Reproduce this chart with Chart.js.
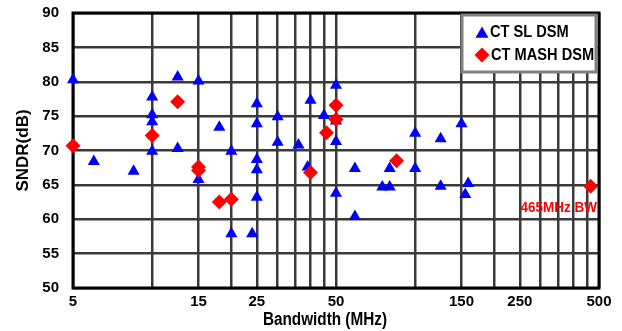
<!DOCTYPE html>
<html>
<head>
<meta charset="utf-8">
<script src="https://cdn.jsdelivr.net/npm/chart.js@4.4.0/dist/chart.umd.min.js"></script>
<style>
  html, body { margin: 0; padding: 0; background: #fff; }
  #wrap { width: 622px; height: 331px; }
</style>
</head>
<body>
<div id="wrap"><canvas id="myChart" width="622" height="331"></canvas></div>
<script>
// CT SL DSM (blue triangles)
const slBandwidth = [5, 12.5, 15, 10, 10, 10, 10, 12.5, 18, 20, 6, 8.5, 15, 20, 24, 25, 25, 25, 25, 25,
  30, 30, 36, 40, 45, 50, 50, 50, 39, 50, 59, 59, 75, 80, 80, 100, 100, 125, 125, 150, 155, 159];
const slSndr = [80.3, 80.7, 80.1, 77.8, 75.2, 74.2, 69.9, 70.3, 73.4, 69.9, 68.4, 67.0, 65.8, 57.9, 57.9, 63.2, 76.8, 73.9, 68.7, 67.2,
  74.9, 71.2, 70.8, 77.3, 75.1, 79.5, 74.3, 71.3, 67.6, 63.8, 67.4, 60.4, 64.7, 64.7, 67.4, 67.4, 72.5, 71.7, 64.8, 73.9, 63.6, 65.2];

// CT MASH DSM (red diamonds)
const mashBandwidth = [5, 12.5, 10, 15, 15, 18, 20, 50, 50, 46, 40, 85, 465];
const mashSndr = [70.7, 77.1, 72.2, 67.6, 67.1, 62.5, 62.9, 76.6, 74.5, 72.6, 66.8, 68.5, 64.8];

const xGridValues = [5, 10, 15, 20, 25, 30, 35, 40, 45, 50, 100, 150, 200, 250, 300, 350, 400, 450, 500];
const xTickLabels = [5, 15, 25, 50, 150, 250, 500];
const seriesLabels = ["CT SL DSM", "CT MASH DSM"];
const xTitle = "Bandwidth (MHz)";
const noteText = "465MHz BW";

const FONT = "'Liberation Sans', Arial, sans-serif";
Chart.defaults.font.family = FONT;
Chart.defaults.font.weight = "bold";
Chart.defaults.color = "#000";

function toPoints(xs, ys) {
  return xs.map((x, i) => ({ x: x, y: ys[i] }));
}

function triangle(ctx, x, y, r) {
  ctx.beginPath();
  ctx.moveTo(x, y - r);
  ctx.lineTo(x + r * Math.sin(Math.PI / 3), y + r / 2);
  ctx.lineTo(x - r * Math.sin(Math.PI / 3), y + r / 2);
  ctx.closePath();
  ctx.fill();
}

function diamond(ctx, x, y, r) {
  ctx.beginPath();
  ctx.moveTo(x, y - r);
  ctx.lineTo(x + r, y);
  ctx.lineTo(x, y + r);
  ctx.lineTo(x - r, y);
  ctx.closePath();
  ctx.fill();
}

// narrow bold text, like the original figure
function narrowText(ctx, text, x, y, size, sx) {
  ctx.save();
  ctx.translate(x, y);
  ctx.scale(sx, 1);
  ctx.font = "bold " + size + "px " + FONT;
  ctx.fillText(text, 0, 0);
  ctx.restore();
}

const framePlugin = {
  id: "frame",
  beforeDatasetsDraw(chart) {
    const { ctx, chartArea: a } = chart;
    ctx.save();
    ctx.strokeStyle = "#000";
    ctx.lineWidth = 3;
    ctx.strokeRect(a.left, a.top, a.right - a.left, a.bottom - a.top);
    ctx.restore();
  },
  afterDatasetsDraw(chart) {
    const { ctx, chartArea: a, scales } = chart;
    ctx.save();
    // legend box
    const bx = a.right - 137, by = a.top + 2, bw = 134, bh = 57;
    ctx.fillStyle = "#fff";
    ctx.fillRect(bx, by, bw, bh);
    ctx.strokeStyle = "#808080";
    ctx.lineWidth = 3;
    ctx.strokeRect(bx, by, bw, bh);
    ctx.textBaseline = "middle";
    ctx.textAlign = "left";
    ctx.fillStyle = "#0000ff";
    triangle(ctx, bx + 20, by + 19, 7.5);
    ctx.fillStyle = "#000";
    narrowText(ctx, seriesLabels[0], bx + 28, by + 17, 17, 0.86);
    ctx.fillStyle = "#ff0000";
    diamond(ctx, bx + 20, by + 40, 7.5);
    ctx.fillStyle = "#000";
    narrowText(ctx, seriesLabels[1], bx + 29, by + 40, 17, 0.86);
    // note
    ctx.fillStyle = "#ff0000";
    ctx.textAlign = "right";
    narrowText(ctx, noteText, a.right - 2, scales.y.getPixelForValue(61.6), 15, 0.9);
    // x axis title
    ctx.fillStyle = "#000";
    ctx.textAlign = "center";
    narrowText(ctx, xTitle, a.left + (a.right - a.left) * 0.479, a.bottom + 32, 18, 0.85);
    ctx.restore();
  }
};

new Chart(document.getElementById("myChart"), {
  type: "scatter",
  data: {
    datasets: [
      {
        label: seriesLabels[0],
        data: toPoints(slBandwidth, slSndr),
        pointStyle: "triangle",
        pointRadius: 7,
        pointBorderWidth: 0,
        backgroundColor: "#0000ff",
        borderColor: "#0000ff",
        order: 2,
        clip: false
      },
      {
        label: seriesLabels[1],
        data: toPoints(mashBandwidth, mashSndr),
        pointStyle: "rectRot",
        pointRadius: 7.5,
        pointBorderWidth: 0,
        backgroundColor: "#ff0000",
        borderColor: "#ff0000",
        order: 1,
        clip: false
      }
    ]
  },
  options: {
    responsive: false,
    animation: false,
    events: [],
    layout: { padding: { left: 0, right: 23, top: 13, bottom: 0 } },
    plugins: {
      legend: { display: false },
      tooltip: { enabled: false }
    },
    scales: {
      x: {
        type: "logarithmic",
        min: 5,
        max: 500,
        afterBuildTicks: (s) => { s.ticks = xGridValues.map(v => ({ value: v })); },
        afterFit: (s) => { s.height = 43; s.paddingLeft = 0; s.paddingRight = 0; },
        ticks: {
          autoSkip: false,
          maxRotation: 0,
          padding: 5,
          font: { size: 15, weight: "bold" },
          callback: (v) => xTickLabels.includes(v) ? String(v) : ""
        },
        grid: { color: "#3a3a3a", lineWidth: 2.5, drawTicks: false },
        border: { display: false },
        title: { display: false }
      },
      y: {
        min: 50,
        max: 90,
        afterFit: (s) => { s.width = 73; s.paddingTop = 0; s.paddingBottom = 0; },
        ticks: {
          stepSize: 5,
          padding: 14,
          font: { size: 15, weight: "bold" }
        },
        grid: { color: "#3a3a3a", lineWidth: 2.5, drawTicks: false },
        border: { display: false },
        title: {
          display: true,
          text: "SNDR(dB)",
          font: { size: 17, weight: "bold" },
          padding: { top: 13, bottom: 0 }
        }
      }
    }
  },
  plugins: [framePlugin]
});
</script>
</body>
</html>
